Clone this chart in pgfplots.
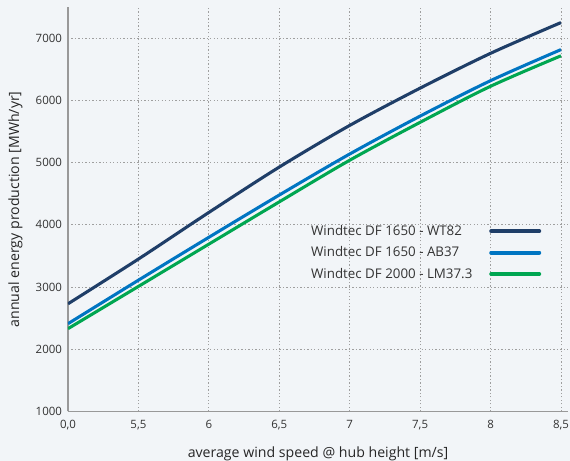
\documentclass[border=0pt]{standalone}
\usepackage{pgfplots}
\pgfplotsset{compat=1.18}
\usepackage{fontspec}
\setmainfont{Open Sans}
\definecolor{bg}{RGB}{242,245,248}
\definecolor{navy}{RGB}{31,62,104}
\definecolor{ablue}{RGB}{0,117,194}
\definecolor{agreen}{RGB}{0,166,81}
\definecolor{txt}{RGB}{51,51,51}
\begin{document}
\begin{tikzpicture}
\path[use as bounding box, fill=bg] (-51pt,-37pt) rectangle (376.5pt,308.5pt);
\begin{axis}[
    at={(0,0)}, anchor=south west,
    scale only axis, width=375pt, height=303pt,
    xmin=5, xmax=8.55, ymin=1000, ymax=7500,
    axis x line*=bottom, axis y line*=left,
    axis line style={draw=gray!80, line width=0.8pt, -},
    xtick={5,5.5,6,6.5,7,7.5,8,8.5},
    xticklabels={{0,0},{5,5},6,{6,5},7,{7,5},8,{8,5}},
    ytick={1000,2000,3000,4000,5000,6000,7000},
    yticklabel style={/pgf/number format/1000 sep={}, xshift=-1pt},
    xticklabel style={yshift=-3pt},
    /pgf/number format/assume math mode=true,
    major tick length=0pt,
    grid=major,
    major grid style={gray!75, line width=0.6pt, dash pattern=on 1pt off 1.6pt},
    ticklabel style={font=\fontsize{8.6}{10}\selectfont, text=txt},
    xlabel={average wind speed @ hub height [m/s]},
    ylabel={annual energy production [MWh/yr]},
    label style={font=\fontsize{10.6}{12}\selectfont, text=black!85},
    xlabel style={yshift=-6pt},
    ylabel style={yshift=3pt},
    legend style={draw=none, fill=none, at={(0.955,0.475)}, anchor=north east,
        font=\fontsize{10}{12}\selectfont, row sep=3pt, text=txt},
    legend plot pos=right,
    legend cell align=left,
    legend image code/.code={\path (0pt,0pt); \draw[line width=3pt, line cap=round] (11pt,0pt) -- (47pt,0pt);},
]
\addplot[navy, line width=2.3pt, smooth] coordinates {
(5,2730) (5.5,3450) (6,4200) (6.5,4930) (7,5600) (7.5,6200) (8,6760) (8.5,7255)};
\addlegendentry{Windtec DF 1650 - WT82}
\addplot[ablue, line width=2.3pt, smooth] coordinates {
(5,2410) (5.5,3110) (6,3800) (6.5,4480) (7,5140) (7.5,5750) (8,6320) (8.5,6820)};
\addlegendentry{Windtec DF 1650 - AB37}
\addplot[agreen, line width=2.3pt, smooth] coordinates {
(5,2330) (5.5,3010) (6,3690) (6.5,4370) (7,5040) (7.5,5650) (8,6230) (8.5,6720)};
\addlegendentry{Windtec DF 2000 - LM37.3}
\end{axis}
\end{tikzpicture}
\end{document}
